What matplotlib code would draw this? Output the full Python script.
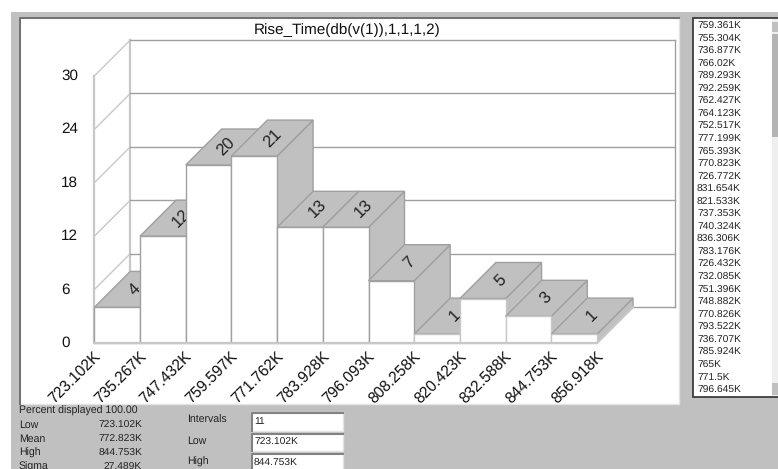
import matplotlib
matplotlib.use('Agg')
from matplotlib import pyplot as plt
from matplotlib.patches import Polygon, Rectangle
from matplotlib.lines import Line2D

plt.rcParams['font.family'] = ['Liberation Sans', 'DejaVu Sans']
plt.rcParams['text.hinting'] = 'none'

title = 'Rise_Time(db(v(1)),1,1,1,2)'
bin_edges = ['723.102K', '735.267K', '747.432K', '759.597K', '771.762K', '783.928K',
             '796.093K', '808.258K', '820.423K', '832.588K', '844.753K', '856.918K']
counts = [4, 12, 20, 21, 13, 13, 7, 1, 5, 3, 1]
y_ticks = [0, 6, 12, 18, 24, 30]
samples = ['759.361K', '755.304K', '736.877K', '766.02K', '789.293K', '792.259K',
           '762.427K', '764.123K', '752.517K', '777.199K', '765.393K', '770.823K',
           '726.772K', '831.654K', '821.533K', '737.353K', '740.324K', '836.306K',
           '783.176K', '726.432K', '732.085K', '751.396K', '748.882K', '770.826K',
           '793.522K', '736.707K', '785.924K', '765K', '771.5K', '796.645K']
stat_names = ['Low', 'Mean', 'High', 'Sigma']
stat_values = ['723.102K', '772.823K', '844.753K', '27.489K']
field_names = ['Intervals', 'Low', 'High']
field_values = ['11', '723.102K', '844.753K']

W, H = 778, 469
GREY = '#c0c0c0'
EDGE = '#a0a0a0'
LIGHT = '#c8c8c8'
TEXT = '#222222'

# pixel layout of the plot
px_x0, px_y0 = 94.3, 343.0
px_bar, px_count = 45.7, 8.9
px_depth = 36.0
panel = (20, 18, 679, 404)

dx = px_depth / px_bar
dy = px_depth / px_count

fig = plt.figure(figsize=(W / 100, H / 100), dpi=100, facecolor='white')


def fig_rect(x0, y0, x1, y1, **kw):
    # negative zorder keeps the window parts under the axes
    fig.add_artist(Rectangle((x0 / W, 1 - y1 / H), (x1 - x0) / W, (y1 - y0) / H,
                             transform=fig.transFigure, zorder=-5, **kw))


def sunken(x0, y0, x1, y1, dark):
    # white box with the windows style shadow on top and left
    fig_rect(x0, y0, x1, y1, fc='white', ec='#e4e4e4', lw=1)
    fig.add_artist(Line2D([x0 / W, x0 / W, x1 / W], [1 - y1 / H, 1 - y0 / H, 1 - y0 / H],
                          transform=fig.transFigure, color=dark, lw=1.4, zorder=-5))


def fig_text(px, py, s, **kw):
    fig.text(px / W, 1 - py / H, s, va='center', **kw)


# grey window behind everything, white margin stays top and left
fig_rect(11, 12, W + 2, H + 2, fc=GREY, ec='none')
sunken(panel[0], panel[1], panel[2], panel[3], '#707070')

ax = fig.add_axes([panel[0] / W, 1 - panel[3] / H, (panel[2] - panel[0]) / W, (panel[3] - panel[1]) / H])
ax.patch.set_visible(False)
ax.set_xlim((panel[0] - px_x0) / px_bar, (panel[2] - px_x0) / px_bar)
ax.set_ylim((px_y0 - panel[3]) / px_count, (px_y0 - panel[1]) / px_count)
ax.set_xticks([])
ax.set_yticks([])
for s in ax.spines.values():
    s.set_visible(False)

n = len(counts)
wall_right = (674.5 - px_x0) / px_bar
top = y_ticks[-1]

# walls
ax.plot([dx, dx], [dy, top + dy], color=LIGHT, lw=1.6, zorder=1)
ax.plot([0, 0], [0, top], color=LIGHT, lw=1.6, zorder=1)
ax.plot([wall_right, wall_right], [dy, top + dy], color=EDGE, lw=1, zorder=1)
for t in y_ticks:
    ax.plot([0, dx], [t, t + dy], color=LIGHT, lw=1, zorder=1)
    ax.plot([dx, wall_right], [t + dy, t + dy], color=EDGE, lw=1, zorder=1)
    fig_text(61, px_y0 - t * px_count, str(t), fontsize=11, color='#111111', ha='left', zorder=5)

# bars, left to right so each one hides what is behind it
for i, c in enumerate(counts):
    z = 2 + i
    ax.add_patch(Polygon([(i + 1, 0), (i + 1 + dx, dy), (i + 1 + dx, c + dy), (i + 1, c)],
                         fc=GREY, ec=EDGE, lw=1, zorder=z))
    ax.add_patch(Polygon([(i, c), (i + dx, c + dy), (i + 1 + dx, c + dy), (i + 1, c)],
                         fc=GREY, ec=EDGE, lw=1, zorder=z))
    ax.text(i + 0.5 + dx / 2, c + dy / 2, str(c), rotation=45, ha='center', va='center',
            fontsize=12, color='#222222', zorder=z)
    ax.add_patch(Rectangle((i, 0), 1, c, fc='white', ec=LIGHT if i >= 7 else EDGE, lw=1, zorder=z + 0.5))

# front edge of the floor
ax.plot([0, n, n + dx], [0, 0, dy], color=LIGHT, lw=1.6, zorder=20)

for i, lab in enumerate(bin_edges):
    ax.annotate(lab, (i, 0), xytext=(-1, -4), textcoords='offset points', rotation=45,
                rotation_mode='anchor', ha='right', va='top', fontsize=11.2, color='#111111',
                annotation_clip=False, zorder=21)

fig_text(347, 30, title, fontsize=11, color='#111111', ha='center', zorder=5)

# sample list box
fig_rect(693, 18, W + 2, 397, fc='white', ec='#303030', lw=1.2)
fig_rect(772, 19, W + 2, 396, fc='#efefef', ec='none')
fig_rect(772, 34, W + 2, 137, fc='#b4b4b4', ec='none')
fig_rect(772, 22, W + 2, 32, fc=GREY, ec='none')
fig_rect(772, 383, W + 2, 395, fc=GREY, ec='none')
for i, s in enumerate(samples):
    fig_text(697, 26.5 + i * 12.54, s, fontsize=7.4, color=TEXT, ha='left', zorder=5)

# stats under the plot
fig_text(19, 410.5, 'Percent displayed 100.00', fontsize=7.6, color=TEXT, ha='left', zorder=5)
for i, (a, b) in enumerate(zip(stat_names, stat_values)):
    fig_text(19, 425 + i * 14, a, fontsize=7.6, color=TEXT, ha='left', zorder=5)
    fig_text(142, 425 + i * 14, b, fontsize=7.4, color=TEXT, ha='right', zorder=5)
for i, (a, b) in enumerate(zip(field_names, field_values)):
    py = 420.5 + i * 20.7
    fig_text(187, py, a, fontsize=7.6, color=TEXT, ha='left', zorder=5)
    sunken(252, py - 7.5, 343, py + 10, '#808080')
    fig_text(254, py + 1, b, fontsize=7.4, color=TEXT, ha='left', zorder=5)

fig.savefig('out.png', dpi=100, facecolor='white')
